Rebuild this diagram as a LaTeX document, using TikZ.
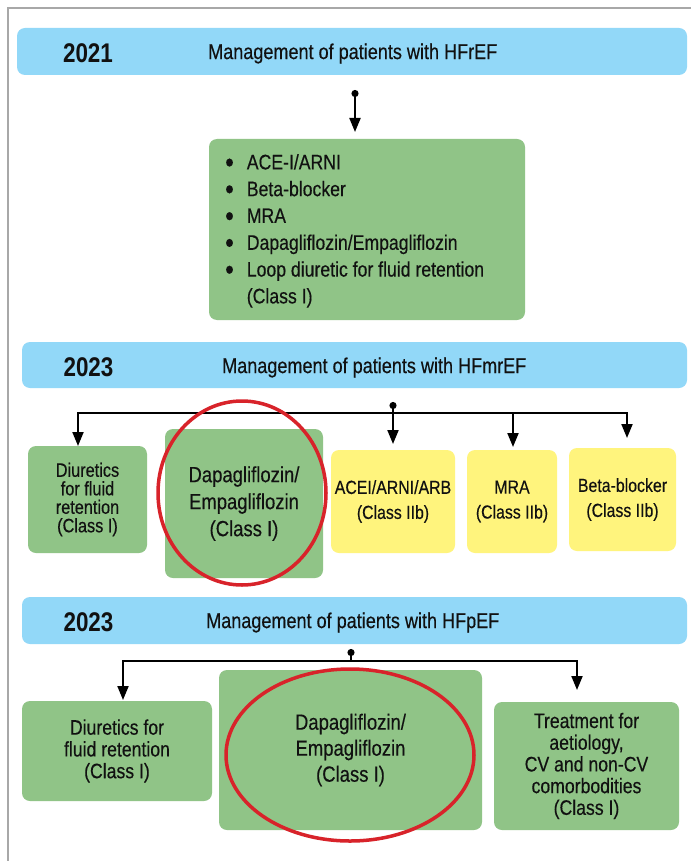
\documentclass[tikz,border=0pt]{standalone}
\usepackage{fontspec}
\usepackage{graphicx}
\setmainfont[FakeStretch=0.84,FakeBold=0.35]{Liberation Sans}
\newfontfamily\yearfont[FakeStretch=0.83]{Liberation Sans}
\usetikzlibrary{arrows.meta}
\definecolor{hblue}{HTML}{92D8F8}
\definecolor{bgreen}{HTML}{90C487}
\definecolor{byellow}{HTML}{FFF47D}
\definecolor{ered}{HTML}{D8232A}
\definecolor{framegray}{HTML}{A8A8A8}
\definecolor{ink}{HTML}{111111}
\newcommand{\bigbul}{\raisebox{-0.14em}{\scalebox{1.4}{\textbullet}}}
\begin{document}
\begin{tikzpicture}[x=1pt,y=-1pt,
  header/.style={fill=hblue, rounded corners=8pt, inner sep=0pt},
  gbox/.style={fill=bgreen, rounded corners=8pt, inner sep=0pt, align=center, text=ink},
  ybox/.style={fill=byellow, rounded corners=8pt, inner sep=0pt, align=center, text=ink},
  yearlbl/.style={font=\yearfont\bfseries\fontsize{27}{30}\selectfont, inner sep=0pt, text=ink},
  titlelbl/.style={font=\fontsize{21.5}{24}\selectfont, inner sep=0pt, anchor=west, text=ink},
  conn/.style={line width=2pt, black},
  arr/.style={conn, -{Triangle[length=14pt,width=11pt]}},
  dotarr/.style={conn, {Circle[length=7pt]}-{Triangle[length=14pt,width=11pt]}},
  dotline/.style={conn, {Circle[length=7pt]}-},
  twoarr/.style={conn, {Triangle[length=14pt,width=11pt]}-{Triangle[length=14pt,width=11pt]}},
  hl/.style={draw=ered, line width=3.5pt}
]
\useasboundingbox (0,0) rectangle (691,861);
\fill[white] (0,0) rectangle (691,861);
\draw[framegray, line width=1.5pt] (8,861) -- (8,8) -- (691,8);

% ---------- 2021 ----------
\node[header, minimum width=670pt, minimum height=47pt] (h1) at (352,51.5) {};
\node[yearlbl] (y1) at (88,53) {2021};
\node[titlelbl] (t1) at (208,53.5) {Management of patients with HFrEF};
\node[gbox, minimum width=316pt, minimum height=181pt] (lst) at (367,229.5) {};
\node[anchor=west, inner sep=0pt, text=ink, font=\fontsize{21}{26.8}\selectfont] (lsttxt) at (225,231)
  {\begin{tabular}{@{}l@{\hspace{13pt}}l@{}}
   \bigbul & ACE-I/ARNI\\
   \bigbul & Beta-blocker\\
   \bigbul & MRA\\
   \bigbul & Dapagliflozin/Empagliflozin\\
   \bigbul & Loop diuretic for fluid retention\\
           & (Class I)
   \end{tabular}};
\coordinate (d1) at (355,90);
\coordinate (e1) at (355,132);
\draw[dotarr] (d1) -- (e1);

% ---------- 2023 HFmrEF ----------
\node[header, minimum width=665pt, minimum height=46pt] (h2) at (354.5,365) {};
\node[yearlbl] (y2) at (88.5,367) {2023};
\node[titlelbl] (t2) at (222,367.5) {Management of patients with HFmrEF};

\node[gbox, minimum width=119pt, minimum height=107pt, font=\fontsize{19.4}{18.5}\selectfont] (m1) at (87.5,499.5) {Diuretics\\for fluid\\retention\\(Class I)};
\node[gbox, minimum width=158pt, minimum height=149pt, font=\fontsize{22}{27}\selectfont] (m2) at (244,503.5) {Dapagliflozin/\\Empagliflozin\\(Class I)};
\node[ybox, minimum width=124pt, minimum height=103pt, font=\fontsize{18.9}{25}\selectfont] (m3) at (393,501.5) {ACEI/ARNI/ARB\\(Class IIb)};
\node[ybox, minimum width=90pt, minimum height=103pt, font=\fontsize{18.9}{25}\selectfont] (m4) at (512,501.5) {MRA\\(Class IIb)};
\node[ybox, minimum width=107pt, minimum height=103pt, font=\fontsize{18.9}{25}\selectfont] (m5) at (622.5,499.5) {Beta-blocker\\(Class IIb)};

\coordinate (d2) at (393,402);
\coordinate (j2) at (393,413);
\coordinate (hL2) at (78,413);
\coordinate (hR2) at (627,413);
\coordinate (jM2) at (513,413);
\coordinate (aL2) at (78,446);
\coordinate (aR2) at (627,438);
\coordinate (aC2) at (393,444);
\coordinate (aM2) at (513,447);
\draw[dotline] (d2) -- (j2);
\draw[twoarr] (aL2) -- (hL2) -- (hR2) -- (aR2);
\draw[arr] (j2) -- (aC2);
\draw[arr] (jM2) -- (aM2);

% ---------- 2023 HFpEF ----------
\node[header, minimum width=665pt, minimum height=47pt] (h3) at (354.5,620.5) {};
\node[yearlbl] (y3) at (88.5,622) {2023};
\node[titlelbl] (t3) at (206,622.5) {Management of patients with HFpEF};

\node[gbox, minimum width=190pt, minimum height=100pt, font=\fontsize{21}{21.8}\selectfont] (b1) at (117,751) {Diuretics for\\fluid retention\\(Class I)};
\node[gbox, minimum width=263pt, minimum height=160pt, font=\fontsize{22}{26}\selectfont] (b2) at (350.5,750) {Dapagliflozin/\\Empagliflozin\\(Class I)};
\node[gbox, minimum width=185pt, minimum height=128pt, font=\fontsize{21}{21.7}\selectfont] (b3) at (586.5,766) {Treatment for\\aetiology,\\CV and non-CV\\comorbodities\\(Class I)};

\coordinate (d3) at (351,649);
\coordinate (j3) at (351,661);
\coordinate (hL3) at (123,661);
\coordinate (hR3) at (577,661);
\coordinate (aL3) at (123,700);
\coordinate (aR3) at (577,690);
\draw[dotline] (d3) -- (j3);
\draw[twoarr] (aL3) -- (hL3) -- (hR3) -- (aR3);

% ---------- highlight ellipses ----------
\draw[hl] (242,493) ellipse [x radius=84pt, y radius=92pt];
\draw[hl] (350,755) ellipse [x radius=124pt, y radius=86pt];
\end{tikzpicture}
\end{document}
